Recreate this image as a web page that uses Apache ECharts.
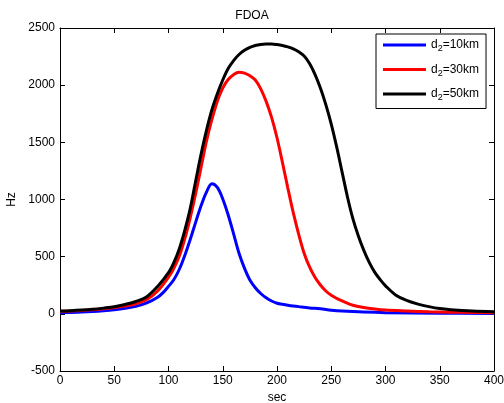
<!DOCTYPE html>
<html>
<head>
<meta charset="utf-8">
<script src="https://cdn.jsdelivr.net/npm/echarts@6/dist/echarts.min.js"></script>
<style>html,body{margin:0;padding:0;background:#fff}#c{width:504px;height:403px}</style>
</head>
<body>
<div id="c"></div>
<script>
// Data
const seriesNames = ['d2=10km', 'd2=30km', 'd2=50km'];
const blueT = [0,10,20,30,40,50,60,70,80,90,95,100,105,110,115,120,125,130,135,140,145,150,155,160,165,170,175,180,185,190,195,200,205,210,215,220,230,240,250,260,280,300,350,400];
const blueV = [10,12,15,20,27,36,48,65,95,145,185,240,300,390,510,650,800,945,1065,1138,1105,1005,865,700,530,400,296,228,178,140,112,93,84,76,69,63,52,44,32,24,15,10,6,4];
const redT = [0,10,20,30,40,50,60,70,80,90,100,105,110,115,120,125,130,135,140,145,150,155,160,165,170,175,180,185,190,195,200,205,210,215,220,225,230,235,240,245,250,255,260,270,280,290,300,320,340,360,380,400];
const redV = [22,25,30,36,44,55,68,88,125,200,320,400,505,655,840,1050,1280,1510,1700,1860,1975,2050,2092,2112,2105,2083,2045,1968,1858,1718,1540,1325,1100,885,695,530,410,320,252,200,162,135,113,75,55,42,33,25,18,14,12,10];
const blackT = [0,10,20,30,40,50,60,70,80,90,100,105,110,115,120,125,130,135,140,145,150,155,160,165,170,175,180,185,190,195,200,205,210,215,220,225,230,235,240,245,250,255,260,265,270,275,280,285,290,295,300,310,320,330,340,350,360,380,400];
const blackV = [25,28,33,40,50,62,82,108,150,240,360,450,570,730,920,1160,1395,1605,1785,1925,2045,2145,2215,2268,2305,2330,2347,2356,2360,2360,2355,2347,2335,2318,2292,2255,2190,2095,1975,1830,1660,1460,1240,1020,830,680,555,450,365,300,245,160,115,85,63,46,36,24,18];
const xTicks = [0,50,100,150,200,250,300,350,400];
const yTicks = [-500,0,500,1000,1500,2000,2500];

function pairs(t, v) { return t.map((x, i) => [x, v[i]]); }
const colors = ['#0000ff', '#ff0000', '#000000'];
const font = 'Liberation Sans, Arial, Helvetica, sans-serif';

const chart = echarts.init(document.getElementById('c'));
const axisCommon = {
  type: 'value',
  axisLine: { show: true, onZero: false, lineStyle: { color: '#000', width: 1 } },
  axisTick: { show: true, inside: true, length: 5, lineStyle: { color: '#000' } },
  splitLine: { show: false },
  axisLabel: { color: '#000', fontSize: 12, fontFamily: font, formatter: v => String(v) }
};
chart.setOption({
  animation: false,
  backgroundColor: '#fff',
  title: { text: 'FDOA', left: 'center', top: 5, textStyle: { fontSize: 12, fontWeight: 'normal', color: '#000', fontFamily: font } },
  grid: { left: 60, right: 10, top: 28, bottom: 32, outerBoundsMode: 'none', containLabel: false },
  legend: {
    orient: 'vertical', left: 376, top: 34,
    data: seriesNames,
    icon: 'rect', itemWidth: 43, itemHeight: 3, itemGap: 10,
    backgroundColor: '#fff',
    borderColor: '#000', borderWidth: 1, padding: [5, 7, 6, 7],
    formatter: function (name) {
      return '{n|d}{s|2}{n|' + name.slice(2) + '}';
    },
    textStyle: {
      color: '#000', fontFamily: font, fontSize: 12,
      rich: {
        n: { fontSize: 12, fontFamily: font, color: '#000' },
        s: { fontSize: 9, fontFamily: font, color: '#000', padding: [8, 0, 0, 0] }
      }
    }
  },
  xAxis: [
    Object.assign({}, axisCommon, { min: 0, max: 400, interval: 50, position: 'bottom',
      name: 'sec', nameLocation: 'middle', nameGap: 21,
      nameTextStyle: { color: '#000', fontSize: 12, fontFamily: font },
      axisLabel: Object.assign({}, axisCommon.axisLabel, { margin: 4 }) }),
    Object.assign({}, axisCommon, { min: 0, max: 400, interval: 50, position: 'top', axisLabel: { show: false } })
  ],
  yAxis: [
    Object.assign({}, axisCommon, { min: -500, max: 2500, interval: 500, position: 'left',
      name: 'Hz', nameLocation: 'middle', nameGap: 40, nameRotate: 90,
      nameTextStyle: { color: '#000', fontSize: 12, fontFamily: font },
      axisLabel: Object.assign({}, axisCommon.axisLabel, { margin: 5 }) }),
    Object.assign({}, axisCommon, { min: -500, max: 2500, interval: 500, position: 'right', axisLabel: { show: false } })
  ],
  series: [
    { name: seriesNames[0], data: pairs(blueT, blueV) },
    { name: seriesNames[1], data: pairs(redT, redV) },
    { name: seriesNames[2], data: pairs(blackT, blackV) }
  ].map((s, i) => Object.assign({
    type: 'line', showSymbol: false, smooth: 0.35,
    lineStyle: { color: colors[i], width: 3 }, itemStyle: { color: colors[i] },
    xAxisIndex: 0, yAxisIndex: 0
  }, s))
});
</script>
</body>
</html>
